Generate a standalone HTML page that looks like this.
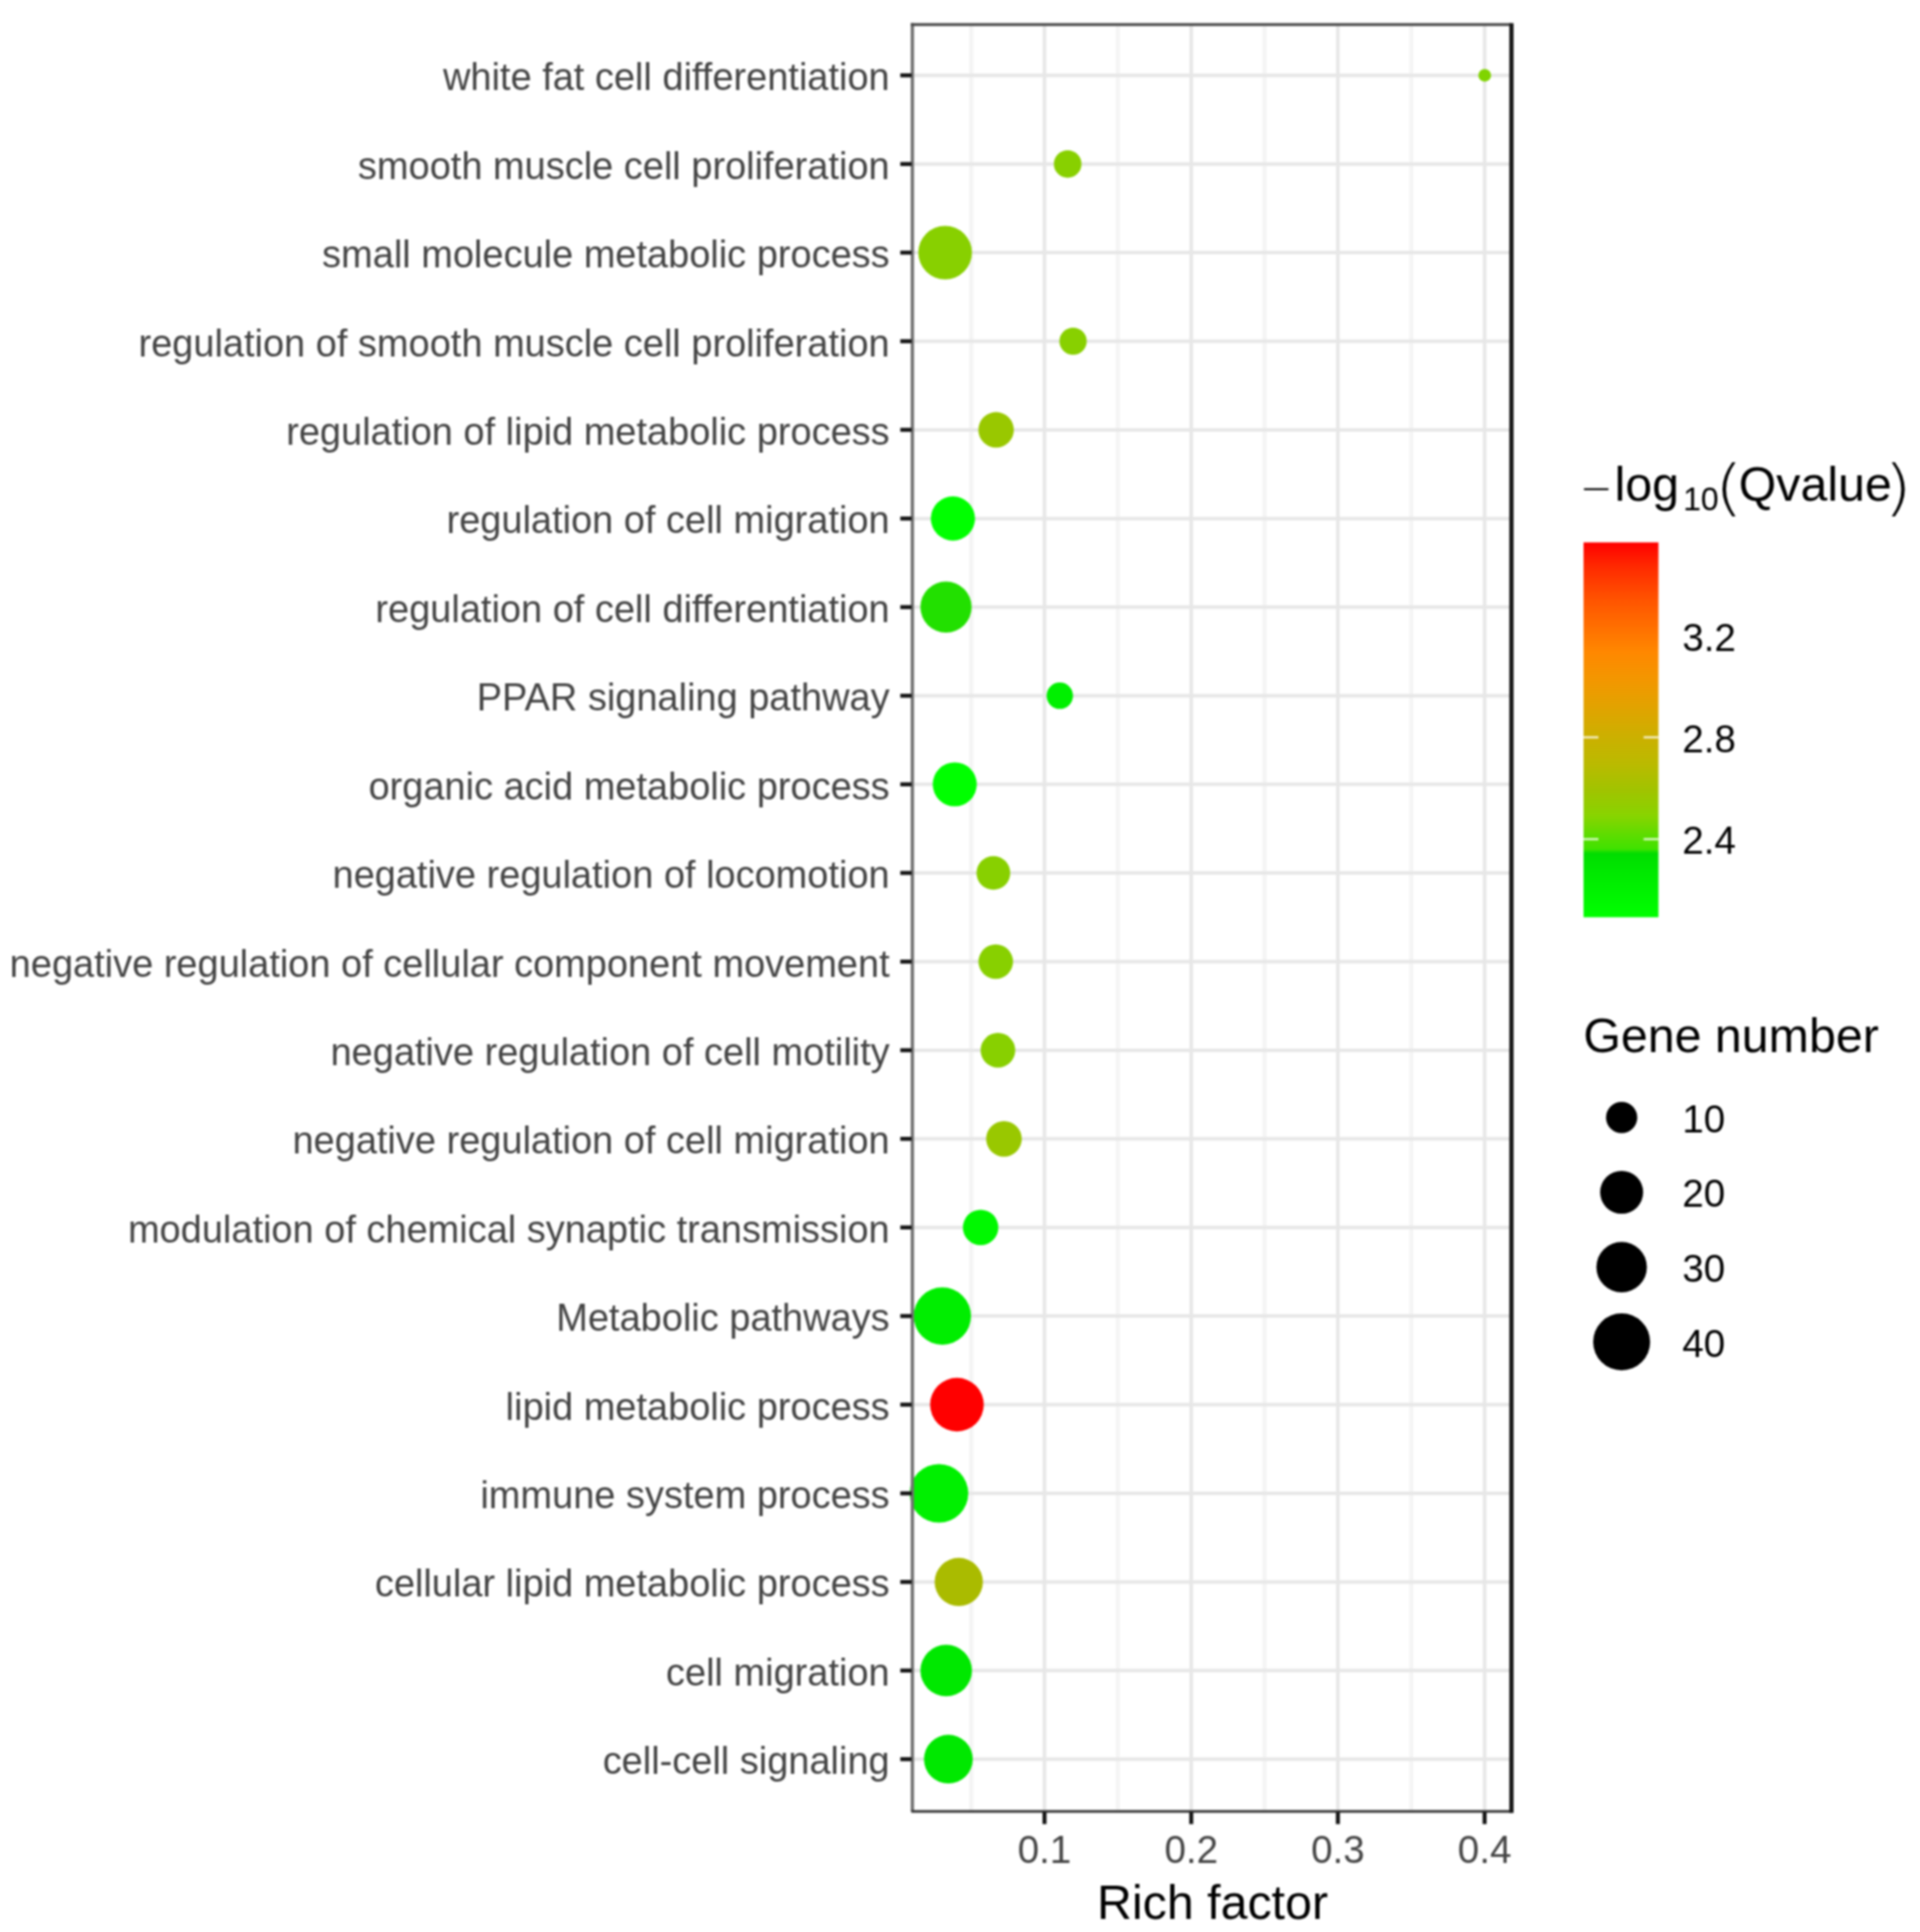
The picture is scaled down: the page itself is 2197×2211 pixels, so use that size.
<!DOCTYPE html>
<html lang="en">
<head>
<meta charset="utf-8">
<title>Enrichment bubble plot</title>
<style>
html,body{margin:0;padding:0;background:#fff;}
body{width:2197px;height:2211px;overflow:hidden;}
svg{display:block;filter:blur(0.8px);}
text{font-family:"Liberation Sans",Arial,Helvetica,sans-serif;}
.ylab{font-size:43.45px;fill:#444;text-anchor:end;}
.xlab{font-size:44.2px;fill:#444;text-anchor:middle;}
.ttl{font-size:55.3px;fill:#000;}
.leg{font-size:44.2px;fill:#000;}
</style>
</head>
<body>
<svg width="2197" height="2211" viewBox="0 0 2197 2211">
<rect x="0" y="0" width="2197" height="2211" fill="#ffffff"/>
<defs>
<clipPath id="panel"><rect x="1041.2" y="28.0" width="688.3" height="2045.0"/></clipPath>
<linearGradient id="cb" x1="0" y1="0" x2="0" y2="1">
<stop offset="0" stop-color="#FF0000"/>
<stop offset="0.066" stop-color="#FF2A00"/>
<stop offset="0.156" stop-color="#FF5500"/>
<stop offset="0.228" stop-color="#FF7000"/>
<stop offset="0.293" stop-color="#FF8800"/>
<stop offset="0.373" stop-color="#F29800"/>
<stop offset="0.446" stop-color="#E0A400"/>
<stop offset="0.518" stop-color="#CCB000"/>
<stop offset="0.59" stop-color="#BBBA00"/>
<stop offset="0.663" stop-color="#A0C400"/>
<stop offset="0.73" stop-color="#88D400"/>
<stop offset="0.777" stop-color="#60DC00"/>
<stop offset="0.818" stop-color="#40E200"/>
<stop offset="0.83" stop-color="#00DD00"/>
<stop offset="0.885" stop-color="#00EA00"/>
<stop offset="1" stop-color="#00FF00"/>
</linearGradient>
</defs>
<g id="grid-minor" stroke="#f4f4f4" stroke-width="4.6">
<line x1="1111.3" y1="28.0" x2="1111.3" y2="2073.0"/>
<line x1="1279.1" y1="28.0" x2="1279.1" y2="2073.0"/>
<line x1="1447.0" y1="28.0" x2="1447.0" y2="2073.0"/>
<line x1="1614.9" y1="28.0" x2="1614.9" y2="2073.0"/>
</g>
<g id="grid-major" stroke="#e7e7e7" stroke-width="4">
<line x1="1195.2" y1="28.0" x2="1195.2" y2="2073.0"/>
<line x1="1363.1" y1="28.0" x2="1363.1" y2="2073.0"/>
<line x1="1530.9" y1="28.0" x2="1530.9" y2="2073.0"/>
<line x1="1698.8" y1="28.0" x2="1698.8" y2="2073.0"/>
<line x1="1044.2" y1="86.2" x2="1729.5" y2="86.2"/>
<line x1="1044.2" y1="187.7" x2="1729.5" y2="187.7"/>
<line x1="1044.2" y1="289.1" x2="1729.5" y2="289.1"/>
<line x1="1044.2" y1="390.5" x2="1729.5" y2="390.5"/>
<line x1="1044.2" y1="491.9" x2="1729.5" y2="491.9"/>
<line x1="1044.2" y1="593.4" x2="1729.5" y2="593.4"/>
<line x1="1044.2" y1="694.8" x2="1729.5" y2="694.8"/>
<line x1="1044.2" y1="796.2" x2="1729.5" y2="796.2"/>
<line x1="1044.2" y1="897.6" x2="1729.5" y2="897.6"/>
<line x1="1044.2" y1="999.0" x2="1729.5" y2="999.0"/>
<line x1="1044.2" y1="1100.5" x2="1729.5" y2="1100.5"/>
<line x1="1044.2" y1="1201.9" x2="1729.5" y2="1201.9"/>
<line x1="1044.2" y1="1303.3" x2="1729.5" y2="1303.3"/>
<line x1="1044.2" y1="1404.7" x2="1729.5" y2="1404.7"/>
<line x1="1044.2" y1="1506.1" x2="1729.5" y2="1506.1"/>
<line x1="1044.2" y1="1607.5" x2="1729.5" y2="1607.5"/>
<line x1="1044.2" y1="1709.0" x2="1729.5" y2="1709.0"/>
<line x1="1044.2" y1="1810.4" x2="1729.5" y2="1810.4"/>
<line x1="1044.2" y1="1911.8" x2="1729.5" y2="1911.8"/>
<line x1="1044.2" y1="2013.2" x2="1729.5" y2="2013.2"/>
</g>
<g id="points" clip-path="url(#panel)">
<circle cx="1698.9" cy="86.2" r="7.3" fill="#80D400"/>
<circle cx="1221.7" cy="187.7" r="15.8" fill="#88D000"/>
<circle cx="1081.5" cy="289.1" r="30.7" fill="#88D000"/>
<circle cx="1227.9" cy="390.5" r="15.6" fill="#88D000"/>
<circle cx="1139.8" cy="491.9" r="20.3" fill="#99C800"/>
<circle cx="1090.4" cy="593.4" r="25.3" fill="#00FF00"/>
<circle cx="1082.5" cy="694.8" r="29.3" fill="#22E000"/>
<circle cx="1212.7" cy="796.2" r="15.1" fill="#00F000"/>
<circle cx="1092.5" cy="897.6" r="25.2" fill="#00FF00"/>
<circle cx="1136.7" cy="999.0" r="19.3" fill="#88D000"/>
<circle cx="1139.4" cy="1100.5" r="19.8" fill="#88D000"/>
<circle cx="1141.9" cy="1201.9" r="19.8" fill="#88D000"/>
<circle cx="1148.8" cy="1303.3" r="20.4" fill="#99C800"/>
<circle cx="1122.1" cy="1404.7" r="20.3" fill="#00F800"/>
<circle cx="1078.3" cy="1506.1" r="32.8" fill="#00EE00"/>
<circle cx="1095.0" cy="1607.5" r="30.7" fill="#FF0000"/>
<circle cx="1074.4" cy="1709.0" r="33.6" fill="#00F000"/>
<circle cx="1097.1" cy="1810.4" r="27.6" fill="#AABB00"/>
<circle cx="1082.7" cy="1911.8" r="29.5" fill="#00E800"/>
<circle cx="1085.2" cy="2013.2" r="27.9" fill="#00E800"/>
</g>
<g id="border" fill="none">
<path d="M1044.0 2073.0 V26.4" stroke="#727272" stroke-width="3.8"/>
<path d="M1042.2 28.2 H1729.5" stroke="#484848" stroke-width="3.2"/>
<path d="M1042.7 2073.0 H1729.5" stroke="#333" stroke-width="3.2"/>
<path d="M1729.5 26.5 V2074.7" stroke="#1c1c1c" stroke-width="5"/>
</g>
<g id="ticks" stroke="#141414" stroke-width="4.6">
<line x1="1030.2" y1="86.2" x2="1043.2" y2="86.2"/>
<line x1="1030.2" y1="187.7" x2="1043.2" y2="187.7"/>
<line x1="1030.2" y1="289.1" x2="1043.2" y2="289.1"/>
<line x1="1030.2" y1="390.5" x2="1043.2" y2="390.5"/>
<line x1="1030.2" y1="491.9" x2="1043.2" y2="491.9"/>
<line x1="1030.2" y1="593.4" x2="1043.2" y2="593.4"/>
<line x1="1030.2" y1="694.8" x2="1043.2" y2="694.8"/>
<line x1="1030.2" y1="796.2" x2="1043.2" y2="796.2"/>
<line x1="1030.2" y1="897.6" x2="1043.2" y2="897.6"/>
<line x1="1030.2" y1="999.0" x2="1043.2" y2="999.0"/>
<line x1="1030.2" y1="1100.5" x2="1043.2" y2="1100.5"/>
<line x1="1030.2" y1="1201.9" x2="1043.2" y2="1201.9"/>
<line x1="1030.2" y1="1303.3" x2="1043.2" y2="1303.3"/>
<line x1="1030.2" y1="1404.7" x2="1043.2" y2="1404.7"/>
<line x1="1030.2" y1="1506.1" x2="1043.2" y2="1506.1"/>
<line x1="1030.2" y1="1607.5" x2="1043.2" y2="1607.5"/>
<line x1="1030.2" y1="1709.0" x2="1043.2" y2="1709.0"/>
<line x1="1030.2" y1="1810.4" x2="1043.2" y2="1810.4"/>
<line x1="1030.2" y1="1911.8" x2="1043.2" y2="1911.8"/>
<line x1="1030.2" y1="2013.2" x2="1043.2" y2="2013.2"/>
<line x1="1195.2" y1="2074.0" x2="1195.2" y2="2087.5"/>
<line x1="1363.1" y1="2074.0" x2="1363.1" y2="2087.5"/>
<line x1="1530.9" y1="2074.0" x2="1530.9" y2="2087.5"/>
<line x1="1698.8" y1="2074.0" x2="1698.8" y2="2087.5"/>
</g>
<g id="ylabels">
<text class="ylab" x="1018" y="103.2">white fat cell differentiation</text>
<text class="ylab" x="1018" y="204.7">smooth muscle cell proliferation</text>
<text class="ylab" x="1018" y="306.1">small molecule metabolic process</text>
<text class="ylab" x="1018" y="407.5">regulation of smooth muscle cell proliferation</text>
<text class="ylab" x="1018" y="508.9">regulation of lipid metabolic process</text>
<text class="ylab" x="1018" y="610.4">regulation of cell migration</text>
<text class="ylab" x="1018" y="711.8">regulation of cell differentiation</text>
<text class="ylab" x="1018" y="813.2">PPAR signaling pathway</text>
<text class="ylab" x="1018" y="914.6">organic acid metabolic process</text>
<text class="ylab" x="1018" y="1016.0">negative regulation of locomotion</text>
<text class="ylab" x="1018" y="1117.5">negative regulation of cellular component movement</text>
<text class="ylab" x="1018" y="1218.9">negative regulation of cell motility</text>
<text class="ylab" x="1018" y="1320.3">negative regulation of cell migration</text>
<text class="ylab" x="1018" y="1421.7">modulation of chemical synaptic transmission</text>
<text class="ylab" x="1018" y="1523.1">Metabolic pathways</text>
<text class="ylab" x="1018" y="1624.5">lipid metabolic process</text>
<text class="ylab" x="1018" y="1726.0">immune system process</text>
<text class="ylab" x="1018" y="1827.4">cellular lipid metabolic process</text>
<text class="ylab" x="1018" y="1928.8">cell migration</text>
<text class="ylab" x="1018" y="2030.2">cell-cell signaling</text>
</g>
<g id="xlabels">
<text class="xlab" x="1195.2" y="2132.2">0.1</text>
<text class="xlab" x="1363.1" y="2132.2">0.2</text>
<text class="xlab" x="1530.9" y="2132.2">0.3</text>
<text class="xlab" x="1698.8" y="2132.2">0.4</text>
</g>
<text class="ttl" x="1387.5" y="2196" text-anchor="middle">Rich factor</text>
<g id="legend-color">
<text class="ttl" style="font-size:50px" transform="translate(1809.3 569.8) scale(1.153 0.62)">−</text>
<text class="ttl" x="1847.5" y="573">log</text>
<text class="ttl" x="1926" y="584.3" style="font-size:36.5px">10</text>
<text class="ttl" style="font-family:'DejaVu Sans Light','DejaVu Sans','Liberation Sans',sans-serif;font-weight:200;font-size:60px" transform="translate(1961.8 581.9) scale(1.4 1.167)">(</text>
<text class="ttl" x="1989.5" y="573">Qvalue</text>
<text class="ttl" style="font-family:'DejaVu Sans Light','DejaVu Sans','Liberation Sans',sans-serif;font-weight:200;font-size:60px" transform="translate(2155.5 581.9) scale(1.4 1.167)">)</text>
<rect x="1812" y="620.7" width="85.7" height="429" fill="url(#cb)"/>
<g stroke="#ffffff" stroke-opacity="0.75" stroke-width="2.6">
<line x1="1812" y1="843.8" x2="1829" y2="843.8"/><line x1="1880.7" y1="843.8" x2="1897.7" y2="843.8"/>
<line x1="1812" y1="960.3" x2="1829" y2="960.3"/><line x1="1880.7" y1="960.3" x2="1897.7" y2="960.3"/>
</g>
<text class="leg" x="1925" y="745">3.2</text>
<text class="leg" x="1925" y="860.8">2.8</text>
<text class="leg" x="1925" y="977.2">2.4</text>
</g>
<g id="legend-size">
<text class="ttl" x="1811.7" y="1204">Gene number</text>
<circle cx="1855.6" cy="1278.9" r="17.9" fill="#000"/>
<circle cx="1855.6" cy="1364.5" r="24.6" fill="#000"/>
<circle cx="1855.6" cy="1450.1" r="28.9" fill="#000"/>
<circle cx="1855.6" cy="1535.7" r="32.6" fill="#000"/>
<text class="leg" x="1925" y="1295.8">10</text>
<text class="leg" x="1925" y="1381.4">20</text>
<text class="leg" x="1925" y="1467">30</text>
<text class="leg" x="1925" y="1552.6">40</text>
</g>
</svg>
</body>
</html>
